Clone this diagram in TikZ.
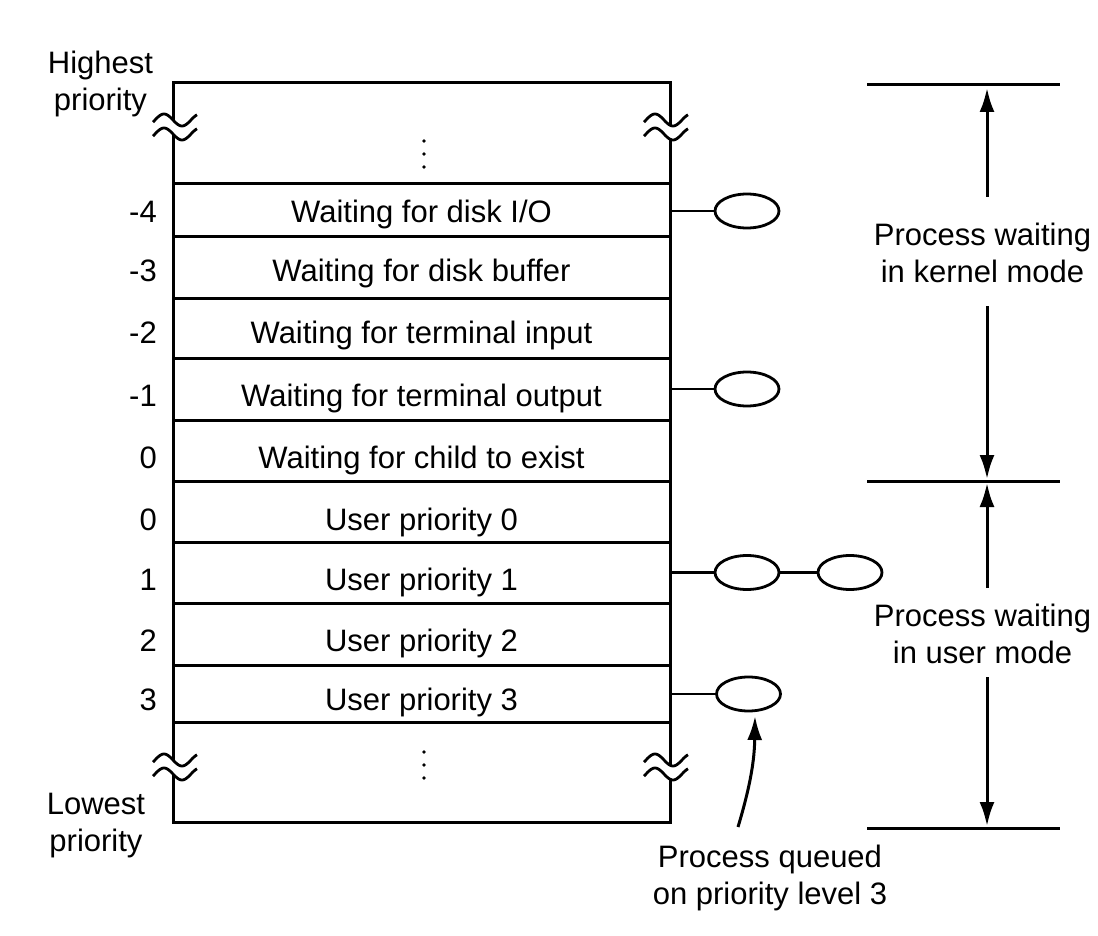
\documentclass[tikz,border=0pt]{standalone}
\usepackage{fontspec}
\setmainfont{Liberation Sans}
\usetikzlibrary{arrows.meta,shapes.geometric}
\begin{document}
\begin{tikzpicture}[x=1pt,y=-1pt,
  ln/.style={line width=3pt},
  lbl/.style={font=\fontsize{31}{37}\selectfont, inner sep=0pt},
  rowtxt/.style={lbl, anchor=base},
  numtxt/.style={lbl, anchor=base east},
  multi/.style={lbl, anchor=north, align=center},
  proc/.style={draw, ellipse, line width=2.8pt, minimum width=64pt, minimum height=34pt, inner sep=0pt},
  link/.style={line width=2.8pt},
  arr/.style={ln, -{Latex[length=24pt,width=15pt]}},
  wave/.style={line width=2.8pt},
]
\useasboundingbox (0,0) rectangle (1098,936);

% main box and row separators
\draw[ln] (173,83) rectangle (670,822);
\foreach \yy in {184,237,298,358,420,481,542,603,665,722}
  \draw[ln] (173,\yy) -- (670,\yy);

% break marks
\foreach \cx/\cy in {175/127, 666/127, 175/767, 666/767} {
  \draw[white, line width=11pt] plot[domain=-20:420, samples=45, smooth] ({\cx-22+(\x+20)/10}, {\cy-6*sin(\x)});
  \draw[wave] plot[domain=-20:420, samples=45, smooth] ({\cx-22+(\x+20)/10}, {\cy-7-6*sin(\x)});
  \draw[wave] plot[domain=-20:420, samples=45, smooth] ({\cx-22+(\x+20)/10}, {\cy+7-6*sin(\x)});
}

% vertical dots
\foreach \yy in {141,154,167,752,765,778}
  \fill (424,\yy) circle (1.9pt);

% row texts
\node[rowtxt] (t4)  at (421.5,223) {Waiting for disk I/O};
\node[rowtxt] (t3)  at (421.5,281) {Waiting for disk buffer};
\node[rowtxt] (t2)  at (421.5,343) {Waiting for terminal input};
\node[rowtxt] (t1)  at (421.5,406) {Waiting for terminal output};
\node[rowtxt] (t0)  at (421.5,468) {Waiting for child to exist};
\node[rowtxt] (tu0) at (421.5,530) {User priority 0};
\node[rowtxt] (tu1) at (421.5,590) {User priority 1};
\node[rowtxt] (tu2) at (421.5,651) {User priority 2};
\node[rowtxt] (tu3) at (421.5,710) {User priority 3};

% priority numbers
\node[numtxt] (n4)  at (157,223) {-4};
\node[numtxt] (n3)  at (157,281) {-3};
\node[numtxt] (n2)  at (157,343) {-2};
\node[numtxt] (n1)  at (157,406) {-1};
\node[numtxt] (n0)  at (157,468) {0};
\node[numtxt] (nu0) at (157,530) {0};
\node[numtxt] (nu1) at (157,590) {1};
\node[numtxt] (nu2) at (157,651) {2};
\node[numtxt] (nu3) at (157,710) {3};

% side labels
\node[multi] (hi) at (100.5,50.5) {Highest\\priority};
\node[multi] (lo) at (96,792.5) {Lowest\\priority};
\node[multi] (km) at (982.5,222.5) {Process waiting\\in kernel mode};
\node[multi] (um) at (982.5,603.5) {Process waiting\\in user mode};
\node[multi] (pq) at (770,844.5) {Process queued\\on priority level 3};

% queued processes
\node[proc] (e4)  at (747,211) {};
\node[proc] (e1)  at (747,389) {};
\node[proc] (u1a) at (747,572.5) {};
\node[proc] (u1b) at (850,572.5) {};
\node[proc] (u3)  at (748.5,694) {};
\coordinate (b4) at (670,211);
\coordinate (b1) at (670,389);
\coordinate (bu1) at (670,572.5);
\coordinate (bu3) at (670,694);
\draw[link] (b4) -- (e4);
\draw[link] (b1) -- (e1);
\draw[link] (bu1) -- (u1a) -- (u1b);
\draw[link] (bu3) -- (u3);

% pointer to queued process
\coordinate (qt) at (738,827);
\coordinate (qh) at (755,716);
\draw[arr] (qt) to[bend right=8] (qh);

% mode ranges
\coordinate (kl) at (867,85);
\coordinate (kr) at (1060,85);
\coordinate (ml) at (867,481);
\coordinate (mr) at (1060,481);
\coordinate (bl) at (867,828);
\coordinate (br) at (1060,828);
\draw[ln] (kl) -- (kr);
\draw[ln] (ml) -- (mr);
\draw[ln] (bl) -- (br);

\coordinate (a1s) at (987,197);
\coordinate (a1e) at (987,88);
\coordinate (a2s) at (987,306);
\coordinate (a2e) at (987,479);
\coordinate (a3s) at (987,588);
\coordinate (a3e) at (987,483);
\coordinate (a4s) at (987,677);
\coordinate (a4e) at (987,826);
\draw[arr] (a1s) -- (a1e);
\draw[arr] (a2s) -- (a2e);
\draw[arr] (a3s) -- (a3e);
\draw[arr] (a4s) -- (a4e);
\end{tikzpicture}
\end{document}
